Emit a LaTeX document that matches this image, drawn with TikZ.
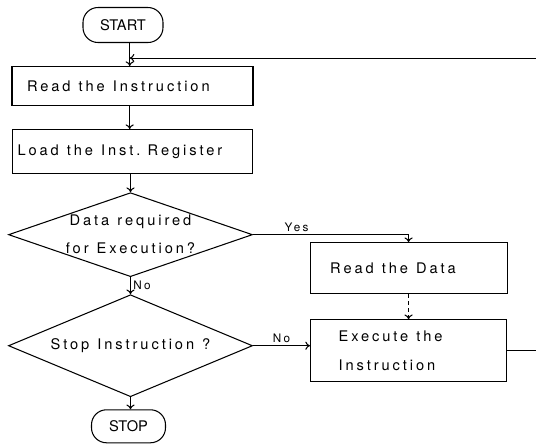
\documentclass[tikz,border=0pt]{standalone}
\usepackage{fontspec}
\setmainfont{TeX Gyre Heros}[LetterSpace=20]
\newfontfamily\capfont{TeX Gyre Heros}
\newfontfamily\diafont{TeX Gyre Heros}[LetterSpace=20,WordSpace=1.3]
\usetikzlibrary{positioning,arrows,arrows.meta,shapes.geometric}

\begin{document}
\begin{tikzpicture}[
    line width=0.9pt, >={To[length=4pt,width=7pt]},
    every node/.style={font=\fontsize{12.5}{24}\selectfont,
                       execute at begin node={\spaceskip=0.55em\relax}},
    terminal/.style={draw,rounded corners=0.45cm,font=\capfont\fontsize{12.5}{14}\selectfont},
    process/.style={draw,align=left,inner ysep=0pt},
    decision/.style={draw,diamond,aspect=2.9,inner sep=0pt,align=center,
                     font=\diafont\fontsize{12.5}{24}\selectfont},
    label/.style={font=\fontsize{10}{12}\selectfont,inner sep=2pt}
  ]

  \useasboundingbox (0,0) rectangle (16.08,-13.35);

  % Start
  \node [terminal,minimum width=2.4cm,minimum height=1.05cm] (start) at (3.69,-0.75) {START};
  \node [coordinate,below right=0.45cm and 0.2cm of start.south] (join) {};

  % Fetch
  \node [process,below=0.69cm of start,xshift=0.285cm,minimum width=7.23cm,minimum height=1.17cm,
         text width=6.33cm,inner xsep=0.45cm] (read) {Read the Instruction};
  \draw [->] (join |- start.south) -- (join |- read.north);

  \node [process,below=0.69cm of read,minimum width=7.2cm,minimum height=1.32cm,
         text width=6.9cm,inner xsep=0.15cm] (load) {Load the Inst. Register};
  \draw [->] (join |- read.south) -- (join |- load.north);

  % Data test
  \node [decision,below=0.54cm of load,xshift=-0.06cm,minimum width=7.32cm,minimum height=2.52cm] (dec1)
        {Data required\\for Execution?};
  \draw [->] (load.south -| dec1.north) -- (dec1.north);

  % Stop test
  \node [decision,below=0.51cm of dec1,minimum width=7.32cm,minimum height=3.06cm] (dec2)
        {Stop Instruction ?};
  \draw [->] (dec1.south) -- node [label,right,pos=0.45] {No} (dec2.north);

  \node [terminal,below=0.36cm of dec2,xshift=-0.06cm,minimum width=2.22cm,minimum height=0.99cm] (stop) {STOP};
  \draw [->] (dec2.south) -- (dec2.south |- stop.north);

  % Execute
  \node [process,right=1.71cm of dec2,yshift=-0.15cm,minimum width=5.88cm,minimum height=1.86cm,
         text width=4.2cm,inner xsep=0.84cm] (exec) {Execute the\\Instruction};
  \draw [->] (dec2.east) -- node [label,above] {No} (dec2.east -| exec.west);

  \node [process,above=0.75cm of exec,minimum width=5.91cm,minimum height=1.53cm,
         text width=4.7cm,inner xsep=0.6cm] (data) {Read the Data};
  \draw [->] (dec1.east) -| node [label,above,pos=0.14] {Yes} (data.north);
  \draw [->,dashed] (data) -- (exec);

  % Loop back
  \draw [->] (exec.east) -- ++(1.5,0) |- (join);

\end{tikzpicture}
\end{document}
